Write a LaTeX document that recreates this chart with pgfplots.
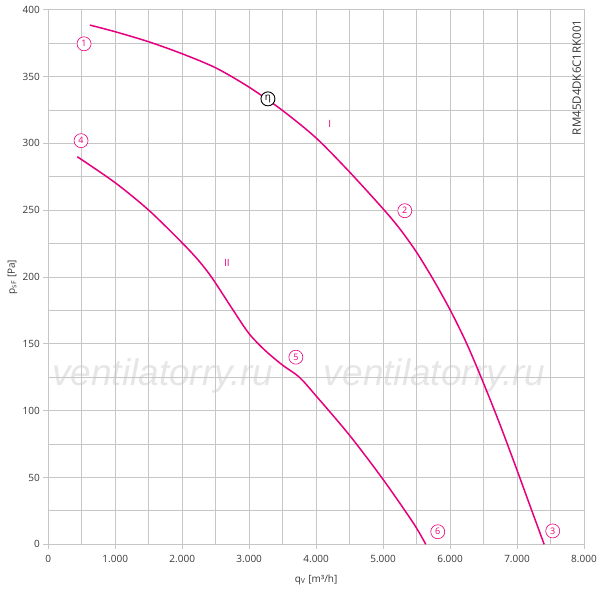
\documentclass[border=0pt]{standalone}
\usepackage{fontspec}
\setmainfont{Open Sans}
\newfontfamily\wmfont{Liberation Sans}
\usepackage{pgfplots}
\pgfplotsset{compat=1.18}
\definecolor{mag}{RGB}{230,0,126}
\definecolor{gridc}{RGB}{198,198,198}
\definecolor{gridm}{RGB}{226,226,226}
\definecolor{txt}{RGB}{55,55,55}
\definecolor{wm}{RGB}{230,230,230}
\begin{document}
\begin{tikzpicture}
\path[use as bounding box] (-48.3pt,-45.7pt) rectangle (551.7pt,544.3pt);
\begin{axis}[at={(0,0)}, anchor=south west, scale only axis,
  width=535.7pt, height=534.6pt,
  xmin=0, xmax=8000, ymin=0, ymax=400, hide axis]
\node[font=\wmfont\itshape\fontsize{37}{37}\selectfont, text=wm] at (axis cs:1710,126) {ventilatorry.ru};
\node[font=\wmfont\itshape\fontsize{37}{37}\selectfont, text=wm] at (axis cs:5770,126) {ventilatorry.ru};
\end{axis}
\begin{axis}[at={(0,0)}, anchor=south west, scale only axis,
  width=535.7pt, height=534.6pt,
  xmin=0, xmax=8000, ymin=0, ymax=400,
  xtick={0,1000,...,8000}, ytick={0,50,...,400},
  minor y tick num=1,
  extra x ticks={500,1500,...,7500},
  extra x tick labels={,,,,,,,},
  extra x tick style={grid style={gridm,line width=1.3pt}, major tick length=0pt},
  grid=both,
  major grid style={gridc,line width=0.8pt},
  minor grid style={gridc,line width=0.8pt},
  axis line style={gridc,line width=0.8pt},
  tick style={gridc,line width=0.8pt},
  tick align=outside, major tick length=5pt, minor tick length=0pt,
  xtick pos=bottom, ytick pos=left,
  ticklabel style={font=\fontsize{10}{12}\selectfont, text=txt},
  xticklabel style={yshift=-2pt},
  /pgf/number format/.cd, 1000 sep={.}, assume math mode=true, /pgfplots/.cd,
  xlabel={q\textsubscript{V} [m³/h]},
  ylabel={p\textsubscript{sF} [Pa]},
  label style={font=\fontsize{10}{12}\selectfont, text=txt},
  x label style={at={(axis description cs:0.5,-0.066)}, anchor=center},
  y label style={at={(axis description cs:-0.067,0.5)}, anchor=center},
]
\addplot[mag, line width=1.5pt, smooth] coordinates {
(620,388.5) (1000,383.5) (1500,376) (2000,367) (2500,356.5) (3000,342)
(3500,324.5) (4000,304) (4500,278.5) (5000,251) (5250,236) (5500,218.5)
(5750,198) (6000,175.5) (6250,150) (6500,120.5) (6750,89) (7000,55.5)
(7200,28) (7405,0)
};
\addplot[mag, line width=1.5pt, smooth] coordinates {
(433,290) (1000,270.5) (1500,250) (2000,225.5) (2250,212) (2450,199)
(2750,176) (3000,157.5) (3250,144.5) (3500,134) (3750,125)
(4000,111) (4500,81.5) (5000,48.5) (5450,16) (5637,0)
};

\tikzset{cl/.style={circle, draw=mag, fill=white, text=mag, line width=0.6pt, inner sep=0pt, minimum size=14pt, font=\fontsize{9}{9}\selectfont}}
\node[cl] at (axis cs:534,374.5) {1};
\node[cl] at (axis cs:5324,249.6) {2};
\node[cl] at (axis cs:7533,10) {3};
\node[cl] at (axis cs:489,302) {4};
\node[cl] at (axis cs:3697,140) {5};
\node[cl] at (axis cs:5816,9.4) {6};
\node[circle, draw=black, fill=white, line width=0.9pt, inner sep=0pt, minimum size=14pt, font=\fontsize{10}{10}\selectfont] at (axis cs:3280,333.3) {η};
\node[text=mag, font=\fontsize{10}{10}\selectfont] at (axis cs:4203,314.6) {I};
\node[text=mag, font=\fontsize{10}{10}\selectfont] at (axis cs:2667,210.6) {II};
\node[rotate=90, text=txt, font=\fontsize{11.5}{11.5}\selectfont, inner sep=0pt] at (axis cs:7891,349.4) {RM45D4DK6C1RK001};
\end{axis}
\end{tikzpicture}
\end{document}
